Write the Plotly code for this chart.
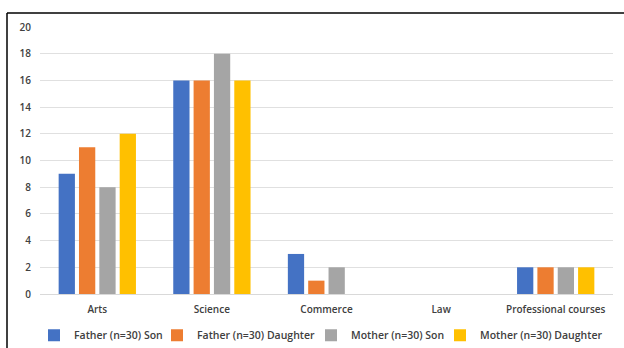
import plotly.graph_objects as go

categories = ["Arts", "Science", "Commerce", "Law", "Professional courses"]
series_names = ["Father (n=30) Son", "Father (n=30) Daughter", "Mother (n=30) Son", "Mother (n=30) Daughter"]
father_son = [9, 16, 3, 0, 2]
father_daughter = [11, 16, 1, 0, 2]
mother_son = [8, 18, 2, 0, 2]
mother_daughter = [12, 16, 0, 0, 2]
y_ticks = [0, 2, 4, 6, 8, 10, 12, 14, 16, 18, 20]

colors = ["#4472C4", "#ED7D31", "#A5A5A5", "#FFC000"]
values = [father_son, father_daughter, mother_son, mother_daughter]

W, H = 624, 348
ml, mr, mt, mb = 40, 11, 27, 54
pw, ph = W - ml - mr, H - mt - mb

def px_x(p):
    return (p - ml) / pw

def px_y(p):
    return (H - mb - p) / ph

# legend entry left edges (pixels) for each series
legend_left = [34, 157, 311, 440]
legend_ids = ["legend", "legend2", "legend3", "legend4"]

fig = go.Figure()
for name, vals, c, lid in zip(series_names, values, colors, legend_ids):
    fig.add_trace(go.Bar(x=categories, y=vals, name=name, legend=lid,
                         marker=dict(color=c, line=dict(width=0))))

fig.add_shape(type="line", xref="paper", yref="paper", x0=px_x(7), x1=px_x(W + 5), y0=px_y(13), y1=px_y(13),
              line=dict(color="black", width=1.5))
fig.add_shape(type="line", xref="paper", yref="paper", x0=px_x(7), x1=px_x(7), y0=px_y(13), y1=px_y(H + 5),
              line=dict(color="black", width=1.5))

legend_common = dict(orientation="h", y=-0.1, yanchor="top", xanchor="left",
                     font=dict(size=10.5, color="#404040", weight=600), itemwidth=30,
                     bgcolor="rgba(0,0,0,0)")

layout_legends = {}
for lid, lx in zip(legend_ids, legend_left):
    layout_legends[lid] = dict(x=px_x(lx), **legend_common)

fig.update_layout(
    width=W, height=H,
    margin=dict(l=ml, r=mr, t=mt, b=mb, autoexpand=False),
    paper_bgcolor="white", plot_bgcolor="white",
    barmode="group", bargap=0.29, bargroupgap=0.2,
    font=dict(family="Open Sans", size=10, color="#404040"),
    showlegend=True,
    xaxis=dict(showgrid=False, showline=True, linecolor="#d9d9d9", linewidth=1, ticks="",
               ticklabelstandoff=6,
               tickfont=dict(size=10, color="#404040", weight=600), fixedrange=True),
    yaxis=dict(range=[0, 20], tickvals=y_ticks, showgrid=True, gridcolor="#e0e0e0", gridwidth=1,
               zeroline=False, showline=False, ticks="", ticklabelstandoff=8,
               tickfont=dict(size=10, color="#404040", weight=600)),
    **layout_legends,
)

fig.write_html("out.html")
